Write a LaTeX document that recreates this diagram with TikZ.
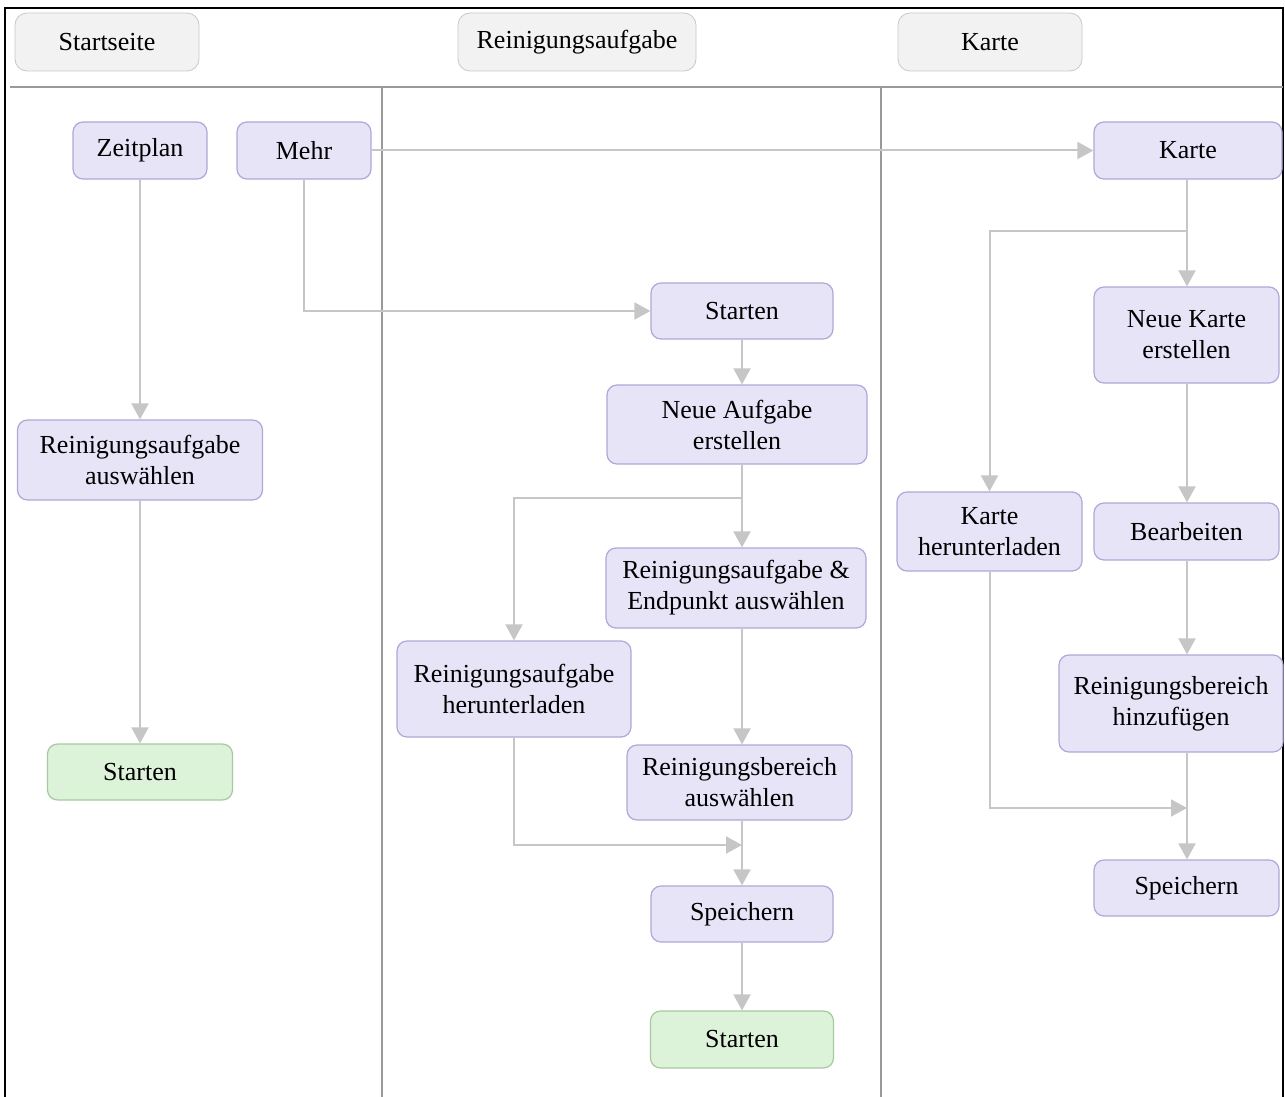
\documentclass[tikz,border=0pt]{standalone}
\usepackage{fontspec}
\setmainfont{Liberation Serif}
\usetikzlibrary{arrows.meta}
\definecolor{boxfill}{HTML}{E7E4F8}
\definecolor{boxline}{HTML}{ABAAD6}
\definecolor{greenfill}{HTML}{DDF3D9}
\definecolor{greenline}{HTML}{A8C8A2}
\definecolor{hdrfill}{HTML}{F2F2F2}
\definecolor{hdrline}{HTML}{C8C8C8}
\definecolor{flowgray}{HTML}{C6C6C6}
\definecolor{lanegray}{HTML}{9A9A9A}

\begin{document}
\begin{tikzpicture}[x=0.5pt,y=-0.5pt,
	> = {Triangle[width=8.5pt,length=8pt]}, % arrow head style
	every node/.style={font=\fontsize{13}{15.5}\selectfont, align=center, inner sep=0pt},
	hdrbox/.style={draw=hdrline, fill=hdrfill, rounded corners=6pt, minimum height=29pt},
	stepbox/.style={draw=boxline, fill=boxfill, rounded corners=5pt, semithick},
	startbox/.style={stepbox, draw=greenline, fill=greenfill},
	flow/.style={->, draw=flowgray, line width=1pt}]
	\useasboundingbox (0,0) rectangle (1285,1097);

	% frame and lanes
	\draw[line width=0.8pt] (5,1097) -- (5,8) -- (1283,8) -- (1283,1097);
	\draw[lanegray, line width=0.7pt] (10,87) -- (1283,87);
	\draw[lanegray, line width=0.7pt] (382,87) -- (382,1097);
	\draw[lanegray, line width=0.7pt] (881,87) -- (881,1097);

	\node[hdrbox, minimum width=92pt]  (hStart) at (107,42) {Startseite};
	\node[hdrbox, minimum width=119pt] (hAufg)  at (577,42) {Reinigungsaufgabe};
	\node[hdrbox, minimum width=92pt]  (hKarte) at (990,42) {Karte};

	% Startseite
	\node[stepbox, minimum width=67pt, minimum height=28.5pt] (zeitplan) at (140,150.5) {Zeitplan};
	\node[stepbox, minimum width=67pt, minimum height=28.5pt] (mehr) at (304,150.5) {Mehr};
	\node[stepbox, minimum width=122.5pt, minimum height=40pt] (auswA) at (140,460) {Reinigungsaufgabe\\auswählen};
	\node[startbox, minimum width=92.5pt, minimum height=28pt] (startA) at (140,772) {Starten};

	% Reinigungsaufgabe
	\node[stepbox, minimum width=91pt, minimum height=28pt] (startB) at (742,311) {Starten};
	\node[stepbox, minimum width=130pt, minimum height=39.5pt] (neueA) at (737,424.5) {Neue Aufgabe\\erstellen};
	\node[stepbox, minimum width=130pt, minimum height=40pt] (endpunkt) at (736,588) {Reinigungsaufgabe \&\\Endpunkt auswählen};
	\node[stepbox, minimum width=117pt, minimum height=48pt] (herunterB) at (514,689) {Reinigungsaufgabe\\herunterladen};
	\node[stepbox, minimum width=112.5pt, minimum height=37.5pt] (bereichB) at (739.5,782.5) {Reinigungsbereich\\auswählen};
	\node[stepbox, minimum width=91pt, minimum height=28pt] (speichernB) at (742,914) {Speichern};
	\node[startbox, minimum width=91.5pt, minimum height=28.5pt] (startC) at (742,1039.5) {Starten};

	% Karte
	\node[stepbox, minimum width=94pt, minimum height=28.5pt] (karte) at (1188,150.5) {Karte};
	\node[stepbox, minimum width=92.5pt, minimum height=48pt] (neueK) at (1186.5,335) {Neue Karte\\erstellen};
	\node[stepbox, minimum width=92.5pt, minimum height=39.5pt] (karteH) at (989.5,531.5) {Karte\\herunterladen};
	\node[stepbox, minimum width=92.5pt, minimum height=28.5pt] (bearb) at (1186.5,531.5) {Bearbeiten};
	\node[stepbox, minimum width=112pt, minimum height=48.5pt] (hinzu) at (1171,703.5) {Reinigungsbereich\\hinzufügen};
	\node[stepbox, minimum width=92.5pt, minimum height=28pt] (speichernK) at (1186.5,888) {Speichern};

	\coordinate (forkB) at (742,498);
	\coordinate (joinB) at (742,845);
	\coordinate (forkK) at (1187,231);
	\coordinate (joinK) at (1187,808);

	\draw[flow] (zeitplan) -- (auswA);
	\draw[flow] (auswA) -- (startA);
	\draw[flow] (mehr) -- (karte);
	\draw[flow] (mehr) |- (startB);

	\draw[flow] (startB) -- (startB |- neueA.north);
	\draw[flow] (neueA.south -| startB) -- (startB |- endpunkt.north);
	\draw[flow] (forkB) -| (herunterB);
	\draw[flow] (endpunkt.south -| startB) -- (startB |- bereichB.north);
	\draw[flow] (bereichB.south -| startB) -- (speichernB);
	\draw[flow] (herunterB) |- (joinB);
	\draw[flow] (speichernB) -- (startC);

	\draw[flow] (karte.south -| forkK) -- (forkK |- neueK.north);
	\draw[flow] (forkK) -| (karteH);
	\draw[flow] (neueK.south -| forkK) -- (forkK |- bearb.north);
	\draw[flow] (bearb.south -| forkK) -- (forkK |- hinzu.north);
	\draw[flow] (hinzu.south -| forkK) -- (forkK |- speichernK.north);
	\draw[flow] (karteH) |- (joinK);

\end{tikzpicture}
\end{document}
